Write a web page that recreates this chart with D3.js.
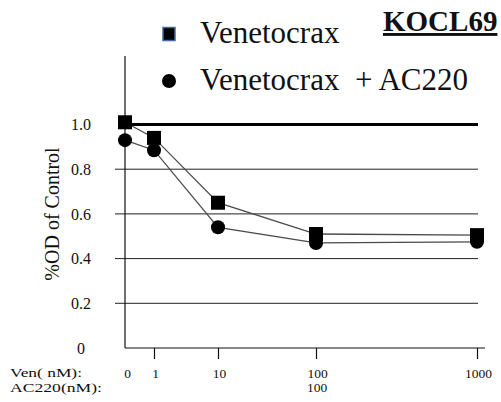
<!DOCTYPE html>
<html lang="en">
<head>
<meta charset="utf-8">
<title>KOCL69</title>
<script src="https://d3js.org/d3.v7.min.js"></script>
<style>
  body { margin: 0; background: #fff; }
</style>
</head>
<body>
<svg width="501" height="402" font-family="Liberation Serif"></svg>
<script>
// doses (nM) of Venetoclax, AC220 fixed at 100 nM
const doses = [0, 1, 10, 100, 1000];
const doseLabels = ["0", "1", "10", "100", "1000"];
const venValues = [1.01, 0.94, 0.65, 0.51, 0.505];
const comboValues = [0.93, 0.885, 0.54, 0.47, 0.475];
const yTicks = [0, 0.2, 0.4, 0.6, 0.8, 1.0];
const yTickLabels = ["0", "0.2", "0.4", "0.6", "0.8", "1.0"];
const seriesNames = ["Venetocrax", "Venetocrax  + AC220"];

const svg = d3.select("svg");

function label(x0, y0, txt, size) {
    return svg.append("text")
        .attr("x", x0).attr("y", y0)
        .attr("font-family", "Liberation Serif")
        .attr("font-size", size)
        .attr("fill", "#111")
        .text(txt);
}

// x spacing in the figure is neither linear nor log, so piecewise
const x = d3.scaleLinear()
    .domain(doses)
    .range([125, 154, 218, 316, 477]);

const y = d3.scaleLinear()
    .domain([0, 1])
    .range([348, 124.5]);

// grid lines
svg.append("g")
    .selectAll("line")
    .data(yTicks.filter(d => d > 0))
    .enter()
    .append("line")
    .attr("x1", d => d === 1 ? 118 : 115)
    .attr("x2", 478)
    .attr("y1", d => y(d))
    .attr("y2", d => y(d))
    .attr("stroke", d => d === 1 ? "#000" : "#222")
    .attr("stroke-width", d => d === 1 ? 3 : 1);

// y tick labels
svg.append("g")
    .selectAll("text")
    .data(yTicks)
    .enter()
    .append("text")
    .attr("x", 81)
    .attr("y", d => y(d))
    .attr("dy", "0.35em")
    .attr("text-anchor", "middle")
    .attr("font-family", "Liberation Serif")
    .attr("font-size", 16)
    .attr("fill", "#111")
    .text((d, i) => yTickLabels[i]);

// y axis
svg.append("line")
    .attr("x1", x(0)).attr("x2", x(0))
    .attr("y1", 56).attr("y2", y(0))
    .attr("stroke", "#111").attr("stroke-width", 1.2);

// x axis
const bottomAxis = d3.axisBottom(x)
    .tickValues(doses)
    .tickFormat((d, i) => doseLabels[i])
    .tickSize(11)
    .tickPadding(9.5)
    .tickSizeOuter(0);

const xg = svg.append("g")
    .attr("transform", "translate(0," + y(0) + ")")
    .call(bottomAxis)
    .attr("font-family", "Liberation Serif")
    .attr("font-size", 13.5);
xg.select(".domain").remove();
xg.selectAll(".tick line").attr("stroke", "#111").attr("stroke-width", 1.2)
    .filter(d => d === 0).remove();
xg.selectAll(".tick text")
    .attr("dx", d => d === 0 ? 2 : 1)
    .attr("fill", "#111");

svg.append("line")
    .attr("x1", x(0)).attr("x2", 485)
    .attr("y1", y(0)).attr("y2", y(0))
    .attr("stroke", "#111").attr("stroke-width", 1.2);

// dose row labels
label(10, 377, "Ven( nM):", 13.5).attr("textLength", 72).attr("lengthAdjust", "spacingAndGlyphs");
label(10, 392, "AC220(nM):", 13.5).attr("textLength", 92).attr("lengthAdjust", "spacingAndGlyphs");
label(x(100) + 1, 392, "100", 13.5).attr("text-anchor", "middle");

// y label
svg.append("text")
    .attr("transform", "translate(59,214) rotate(-90)")
    .attr("text-anchor", "middle")
    .attr("font-family", "Liberation Serif")
    .attr("font-size", 20)
    .attr("fill", "#111")
    .text("%OD of Control");

// connecting lines
const line = d3.line()
    .x((d, i) => x(doses[i]))
    .y(d => y(d));

[venValues, comboValues].forEach(vals => {
    svg.append("path")
        .datum(vals)
        .attr("d", line)
        .attr("fill", "none")
        .attr("stroke", "#4a4a4a")
        .attr("stroke-width", 1.3);
});

// markers
svg.append("g")
    .selectAll("circle")
    .data(comboValues)
    .enter()
    .append("circle")
    .attr("cx", (d, i) => x(doses[i]))
    .attr("cy", d => y(d))
    .attr("r", 7)
    .attr("fill", "#000");

svg.append("g")
    .selectAll("rect")
    .data(venValues)
    .enter()
    .append("rect")
    .attr("x", (d, i) => x(doses[i]) - 7)
    .attr("y", d => y(d) - 7)
    .attr("width", 14)
    .attr("height", 14)
    .attr("fill", "#000");

// legend
svg.append("rect")
    .attr("x", 163).attr("y", 27.5)
    .attr("width", 12).attr("height", 13)
    .attr("fill", "#000")
    .attr("stroke", "#4468a8")
    .attr("stroke-width", 1.5);
svg.append("circle")
    .attr("cx", 169).attr("cy", 81).attr("r", 7)
    .attr("fill", "#000");

label(200, 43, seriesNames[0], 31);
label(200, 90, seriesNames[1], 31).attr("xml:space", "preserve").style("white-space", "pre");

// title
label(383, 31, "KOCL69", 29)
    .attr("font-weight", "bold")
    .attr("text-decoration", "underline");
</script>
</body>
</html>
